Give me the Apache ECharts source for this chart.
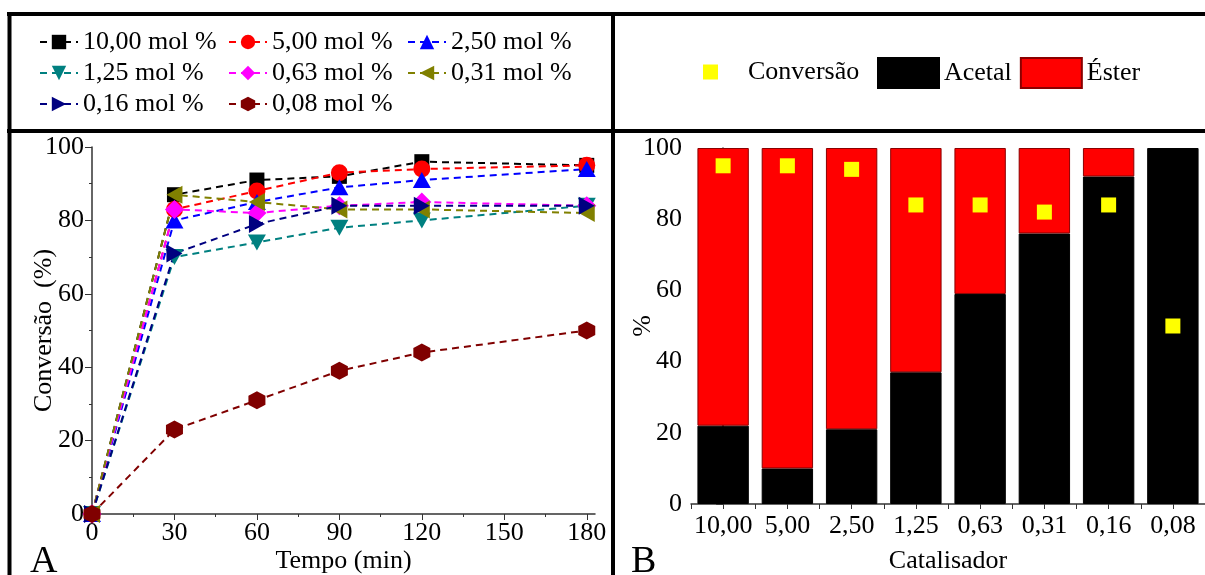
<!DOCTYPE html>
<html><head><meta charset="utf-8">
<script src="https://cdn.jsdelivr.net/npm/echarts@6/dist/echarts.min.js"></script>
<style>html,body{margin:0;padding:0;background:#fff}#c{width:1205px;height:575px}</style>
</head><body><div id="c"></div>
<script>
// ---- Data (panel A) ----
const timeMin = [0, 30, 60, 90, 120, 180];
const conv1000 = [0, 87, 91, 92, 96, 95];
const conv0500 = [0, 83, 88, 93, 94, 95];
const conv0250 = [0, 80, 85, 89, 91, 94];
const conv0125 = [0, 70, 74, 78, 80, 84];
const conv0063 = [0, 83, 82, 84, 85, 84];
const conv0031 = [0, 87, 85, 83, 83, 82];
const conv0016 = [0, 71, 79, 84, 84, 84];
const conv0008 = [0, 23, 31, 39, 44, 50];
const seriesNames = ['10,00 mol %', '5,00 mol %', '2,50 mol %', '1,25 mol %', '0,63 mol %', '0,31 mol %', '0,16 mol %', '0,08 mol %'];
const xTicksA = [0, 30, 60, 90, 120, 150, 180];
const xMinorA = [15, 45, 75, 105, 135, 165];

// ---- Data (panel B) ----
const catalisador = ['10,00', '5,00', '2,50', '1,25', '0,63', '0,31', '0,16', '0,08'];
const acetal = [22, 10, 21, 37, 59, 76, 92, 100];
const ester = [78, 90, 79, 63, 41, 24, 8, 0];
const conversao = [95, 95, 94, 84, 84, 82, 84, 50];

const FONT = 'Liberation Serif';
const valuesA = [conv1000, conv0500, conv0250, conv0125, conv0063, conv0031, conv0016, conv0008];
const colorsA = ['#000000', '#ff0000', '#0000ff', '#008080', '#ff00ff', '#808000', '#000080', '#800000'];
const hex = 'path://M0,-10 L8.66,-5 L8.66,5 L0,10 L-8.66,5 L-8.66,-5 Z';
const symbolsA = [
  {s: 'rect', r: 0, z: [15, 15]},
  {s: 'circle', r: 0, z: 17},
  {s: 'triangle', r: 0, z: [18, 16]},
  {s: 'triangle', r: 180, z: [18, 16]},
  {s: 'diamond', r: 0, z: [19, 19]},
  {s: 'triangle', r: 90, z: [18, 16]},
  {s: 'triangle', r: -90, z: [18, 16]},
  {s: hex, r: 0, z: [17, 18]}
];

const lineSeries = valuesA.map((vals, k) => ({
  name: seriesNames[k],
  type: 'line',
  xAxisIndex: 0, yAxisIndex: 0,
  data: timeMin.map((t, i) => [t, vals[i]]),
  symbol: symbolsA[k].s,
  symbolRotate: symbolsA[k].r,
  symbolSize: symbolsA[k].z,
  color: colorsA[k],
  lineStyle: {color: colorsA[k], width: 2, type: [7, 5]},
  itemStyle: {color: colorsA[k], opacity: 1},
  emphasis: {disabled: true},
  animation: false
}));

const axisLbl = {fontFamily: FONT, fontSize: 26, color: '#000'};
const axisLineStyle = {lineStyle: {color: '#333', width: 1.5}};
const nameStyle = {fontFamily: FONT, fontSize: 26, color: '#000'};

const option = {
  animation: false,
  backgroundColor: '#fff',
  grid: [
    {left: 92, top: 147, width: 503, height: 367, outerBoundsMode: 'none', containLabel: false},
    {left: 691, top: 148, width: 514, height: 356, outerBoundsMode: 'none', containLabel: false}
  ],
  xAxis: [
    {
      gridIndex: 0, type: 'value', min: 0, max: 183, position: 'bottom',
      axisLine: axisLineStyle,
      axisTick: {show: true, length: 6, inside: false, customValues: xTicksA, lineStyle: {color: '#333'}},
      axisLabel: Object.assign({margin: 6, customValues: xTicksA}, axisLbl),
      splitLine: {show: false},
      name: 'Tempo (min)', nameLocation: 'middle', nameGap: 34, nameMoveOverlap: false,
      nameTextStyle: nameStyle
    },
    {
      gridIndex: 0, type: 'value', min: 0, max: 183, position: 'bottom',
      axisLine: {show: false},
      axisTick: {show: true, length: 3, customValues: xMinorA, lineStyle: {color: '#333'}},
      axisLabel: {show: false}, splitLine: {show: false}
    },
    {
      gridIndex: 1, type: 'category', data: catalisador, position: 'bottom',
      axisLine: axisLineStyle,
      axisTick: {show: false},
      axisLabel: Object.assign({margin: 9, interval: 0}, axisLbl),
      name: 'Catalisador', nameLocation: 'middle', nameGap: 44, nameMoveOverlap: false,
      nameTextStyle: nameStyle
    },
    {
      gridIndex: 1, type: 'value', min: -0.5, max: 7.5, interval: 0.5, position: 'bottom',
      axisLine: {show: false},
      axisTick: {show: true, length: 5, lineStyle: {color: '#333'}},
      axisLabel: {show: false}, splitLine: {show: false}
    }
  ],
  yAxis: [
    {
      gridIndex: 0, type: 'value', min: 0, max: 100, interval: 20,
      axisLine: Object.assign({show: true}, axisLineStyle),
      axisTick: {show: true, length: 7, lineStyle: {color: '#333'}},
      minorTick: {show: true, splitNumber: 2, length: 3, lineStyle: {color: '#333'}},
      axisLabel: Object.assign({margin: 8}, axisLbl),
      splitLine: {show: false},
      name: 'Conversão  (%)', nameLocation: 'middle', nameGap: 35, nameRotate: 90, nameMoveOverlap: false,
      nameTextStyle: nameStyle
    },
    {
      gridIndex: 1, type: 'value', min: 0, max: 100, interval: 20,
      axisLine: Object.assign({show: true}, axisLineStyle),
      axisTick: {show: true, length: 7, lineStyle: {color: '#333'}},
      minorTick: {show: true, splitNumber: 2, length: 3, lineStyle: {color: '#333'}},
      axisLabel: Object.assign({margin: 9}, axisLbl),
      splitLine: {show: false},
      name: '%', nameLocation: 'middle', nameGap: 35, nameRotate: 90, nameMoveOverlap: false,
      nameTextStyle: nameStyle
    }
  ],
  legend: [
    {orient: 'vertical', left: 34, top: 24, itemGap: 5, itemWidth: 38, itemHeight: 18,
     data: [seriesNames[0], seriesNames[3], seriesNames[6]],
     textStyle: {fontFamily: FONT, fontSize: 26, color: '#000', lineHeight: 26}},
    {orient: 'vertical', left: 223, top: 24, itemGap: 5, itemWidth: 38, itemHeight: 18,
     data: [seriesNames[1], seriesNames[4], seriesNames[7]],
     textStyle: {fontFamily: FONT, fontSize: 26, color: '#000', lineHeight: 26}},
    {orient: 'vertical', left: 402, top: 24, itemGap: 5, itemWidth: 38, itemHeight: 18,
     data: [seriesNames[2], seriesNames[5]],
     textStyle: {fontFamily: FONT, fontSize: 26, color: '#000', lineHeight: 26}},
    {orient: 'horizontal', left: 698, top: 54, itemWidth: 15, itemHeight: 15, icon: 'rect',
     data: ['Conversão'],
     textStyle: {fontFamily: FONT, fontSize: 26, color: '#000', padding: [0, 0, 0, 25]}},
    {orient: 'horizontal', left: 872, top: 52, itemWidth: 61, itemHeight: 30, itemGap: 8, icon: 'rect',
     data: ['Acetal', 'Éster'],
     textStyle: {fontFamily: FONT, fontSize: 26, color: '#000'}}
  ],
  series: lineSeries.concat([
    {
      name: 'Acetal', type: 'bar', stack: 'b', xAxisIndex: 2, yAxisIndex: 1,
      data: acetal, barCategoryGap: '20%',
      itemStyle: {color: '#000', borderColor: '#000', borderWidth: 1},
      emphasis: {disabled: true}
    },
    {
      name: 'Éster', type: 'bar', stack: 'b', xAxisIndex: 2, yAxisIndex: 1,
      data: ester.map(v => (v === 0 ? null : v)), barCategoryGap: '20%',
      itemStyle: {color: '#ff0000', borderColor: '#8b0000', borderWidth: 1},
      emphasis: {disabled: true}
    },
    {
      name: 'Conversão', type: 'scatter', xAxisIndex: 2, yAxisIndex: 1,
      data: conversao, symbol: 'rect', symbolSize: 15, z: 5,
      itemStyle: {color: '#ffff00', opacity: 1},
      emphasis: {disabled: true}
    }
  ]),
  graphic: [
    {type: 'line', shape: {x1: 7, y1: 14, x2: 1205, y2: 14}, style: {stroke: '#000', lineWidth: 4}, z: 100},
    {type: 'line', shape: {x1: 9.5, y1: 12, x2: 9.5, y2: 575}, style: {stroke: '#000', lineWidth: 4}, z: 100},
    {type: 'line', shape: {x1: 613, y1: 12, x2: 613, y2: 575}, style: {stroke: '#000', lineWidth: 4}, z: 100},
    {type: 'line', shape: {x1: 7, y1: 131, x2: 1205, y2: 131}, style: {stroke: '#000', lineWidth: 4}, z: 100},
    {type: 'text', left: 30, top: 543, style: {text: 'A', font: '38px "Liberation Serif"', fill: '#000'}, z: 100},
    {type: 'text', left: 631, top: 543, style: {text: 'B', font: '38px "Liberation Serif"', fill: '#000'}, z: 100}
  ]
};

const chart = echarts.init(document.getElementById('c'), null, {renderer: 'canvas'});
chart.setOption(option);
</script>
</body></html>
